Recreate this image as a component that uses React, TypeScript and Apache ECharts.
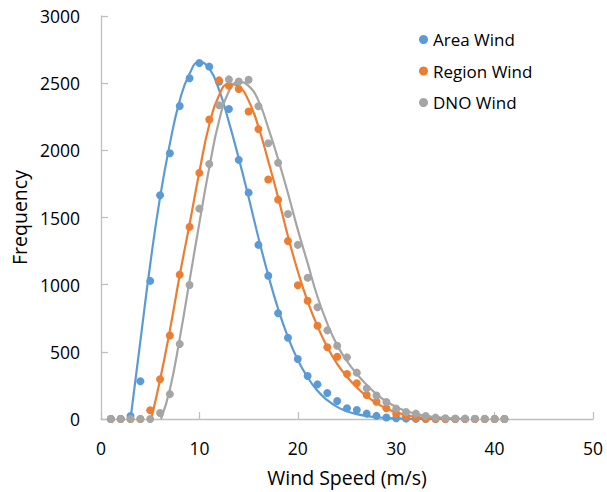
import React, { useEffect, useRef } from "react";
import * as echarts from "echarts";

const speeds = [1, 2, 3, 4, 5, 6, 7, 8, 9, 10, 11, 12, 13, 14, 15, 16, 17, 18, 19, 20, 21, 22, 23, 24, 25, 26, 27, 28, 29, 30, 31, 32, 33, 34, 35, 36, 37, 38, 39, 40, 41];
const areaWind = [0, 0, 22, 281, 1028, 1666, 1978, 2330, 2537, 2650, 2623, 2510, 2308, 1929, 1685, 1296, 1067, 787, 605, 447, 320, 258, 194, 134, 80, 67, 40, 23, 11, 5, 3, 1, 0, 0, 0, 0, 0, 0, 0, 0, 0];
const regionWind = [0, 0, 0, 0, 65, 296, 622, 1075, 1430, 1832, 2230, 2521, 2481, 2456, 2289, 2158, 1783, 1633, 1325, 996, 880, 694, 534, 464, 335, 266, 179, 129, 80, 40, 20, 8, 3, 1, 0, 0, 0, 0, 0, 0, 0];
const dnoWind = [0, 0, 0, 0, 0, 45, 185, 558, 998, 1566, 1898, 2336, 2528, 2512, 2525, 2328, 2053, 1908, 1526, 1296, 1052, 832, 660, 545, 459, 345, 228, 175, 127, 77, 52, 40, 22, 10, 6, 4, 3, 2, 1, 1, 0];

const areaFitX = [3, 4, 5, 6, 7, 8, 9, 10, 11, 12, 13, 14, 15, 16, 17, 18, 19, 20, 21, 22, 23, 24, 25, 26, 27, 28, 29, 30, 32, 35];
const areaFitY = [0, 580, 1150, 1650, 2050, 2370, 2570, 2660, 2610, 2450, 2210, 1940, 1650, 1350, 1070, 820, 610, 440, 310, 210, 140, 90, 58, 36, 22, 13, 8, 4, 1, 0];
const regionFitX = [5.1, 6, 7, 8, 9, 10, 11, 12, 13, 14, 15, 16, 17, 18, 19, 20, 21, 22, 23, 24, 25, 26, 27, 28, 29, 30, 31, 32, 33, 34, 35, 35.8];
const regionFitY = [0, 290, 660, 1070, 1450, 1840, 2190, 2410, 2495, 2475, 2370, 2175, 1920, 1650, 1360, 1100, 875, 690, 535, 410, 315, 235, 170, 118, 78, 50, 30, 17, 9, 4, 2, 0];
const dnoFitX = [6.1, 7, 8, 9, 10, 11, 12, 13, 14, 15, 16, 17, 18, 19, 20, 21, 22, 23, 24, 25, 26, 27, 28, 29, 30, 31, 32, 33, 34, 35, 36, 37];
const dnoFitY = [0, 220, 600, 1030, 1460, 1870, 2220, 2440, 2510, 2480, 2370, 2165, 1935, 1680, 1410, 1160, 910, 710, 550, 430, 335, 255, 185, 130, 90, 60, 38, 24, 14, 8, 4, 0];

const seriesNames = ["Area Wind", "Region Wind", "DNO Wind"];
const colors = ["#5B9BD5", "#ED7D31", "#A5A5A5"];
const xTicks = [0, 10, 20, 30, 40, 50];
const yTicks = [0, 500, 1000, 1500, 2000, 2500, 3000];

const FONT = "'Open Sans', sans-serif";

export default function App() {
  const ref = useRef<HTMLDivElement>(null);
  useEffect(() => {
    document.body.style.margin = "0";
    if (!ref.current) return;
    const chart = echarts.init(ref.current, null, { renderer: "svg" });
    const zip = (xs: number[], ys: number[]) => xs.map((x, i) => [x, ys[i]]);
    const pts = [areaWind, regionWind, dnoWind];
    const fits = [
      zip(areaFitX, areaFitY),
      zip(regionFitX, regionFitY),
      zip(dnoFitX, dnoFitY),
    ];
    const axisColor = "#BFBFBF";
    const series: any[] = [];
    fits.forEach((d, i) => {
      series.push({
        type: "line",
        name: seriesNames[i] + " fit",
        data: d,
        showSymbol: false,
        smooth: 0.5,
        lineStyle: { color: colors[i], width: 2.2 },
        itemStyle: { color: colors[i] },
        z: 2,
      });
    });
    pts.forEach((ys, i) => {
      series.push({
        type: "scatter",
        name: seriesNames[i],
        data: zip(speeds, ys),
        symbol: "circle",
        symbolSize: 8,
        itemStyle: { color: colors[i], opacity: 1 },
        z: 3 + i,
      });
    });
    chart.setOption({
      animation: false,
      textStyle: { fontFamily: FONT },
      grid: { left: 101, top: 16, width: 492, height: 403 },
      legend: {
        data: seriesNames.map((n) => ({ name: n, icon: "circle" })),
        orient: "vertical",
        left: 414,
        top: 26,
        itemWidth: 9,
        itemHeight: 9,
        itemGap: 14.5,
        textStyle: { fontFamily: FONT, fontSize: 17, color: "#000" },
      },
      xAxis: {
        type: "value",
        min: xTicks[0],
        max: xTicks[xTicks.length - 1],
        interval: xTicks[1] - xTicks[0],
        name: "Wind Speed (m/s)",
        nameLocation: "middle",
        nameGap: 48,
        nameTextStyle: { fontFamily: FONT, fontSize: 19.5, color: "#000" },
        axisLine: { lineStyle: { color: axisColor, width: 1.3 } },
        axisTick: { inside: true, length: 7, lineStyle: { color: axisColor, width: 1.3 } },
        splitLine: { show: false },
        axisLabel: { fontFamily: FONT, fontSize: 17.5, color: "#000", margin: 20, formatter: (v: number) => String(v) },
      },
      yAxis: {
        type: "value",
        min: yTicks[0],
        max: yTicks[yTicks.length - 1],
        interval: yTicks[1] - yTicks[0],
        name: "Frequency",
        nameLocation: "middle",
        nameGap: 72,
        nameRotate: 90,
        nameTextStyle: { fontFamily: FONT, fontSize: 19.5, color: "#000" },
        axisLine: { show: true, lineStyle: { color: axisColor, width: 1.3 } },
        axisTick: { show: true, inside: true, length: 7, lineStyle: { color: axisColor, width: 1.3 } },
        splitLine: { show: false },
        axisLabel: { fontFamily: FONT, fontSize: 17.5, color: "#000", margin: 21, formatter: (v: number) => String(v) },
      },
      series,
    });
    return () => chart.dispose();
  }, []);
  return <div ref={ref} style={{ width: 607, height: 492 }} />;
}
